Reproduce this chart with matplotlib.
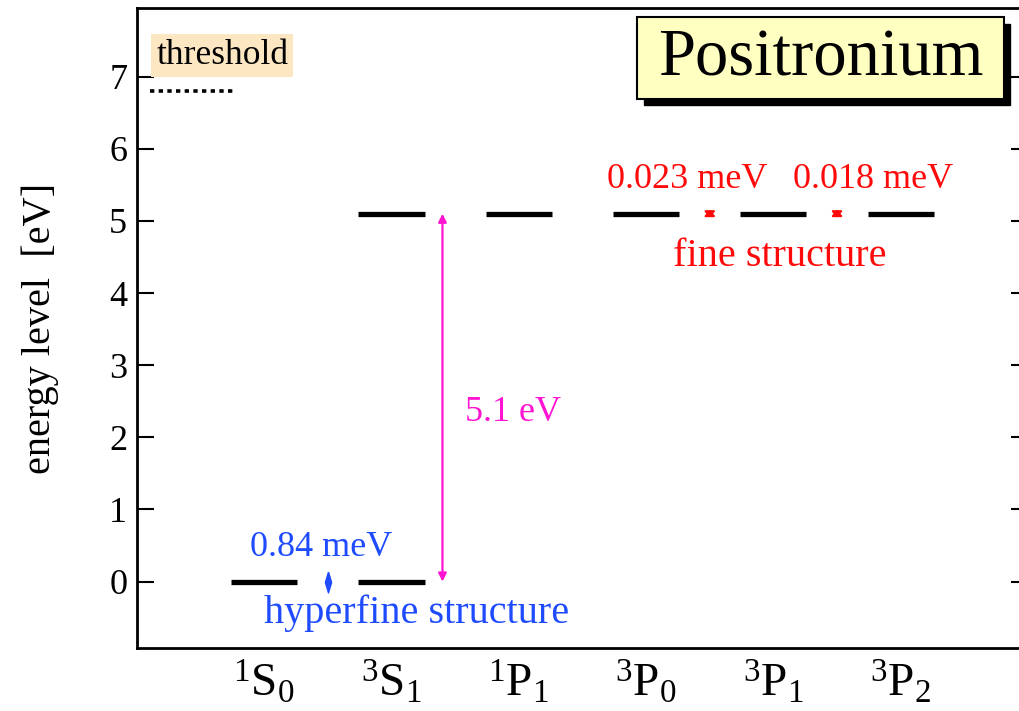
import matplotlib
matplotlib.use('Agg')
import matplotlib.pyplot as plt
from matplotlib.patches import Rectangle

plt.rcParams['font.family'] = ['Liberation Serif', 'DejaVu Serif']
plt.rcParams['mathtext.fontset'] = 'custom'
plt.rcParams['mathtext.rm'] = 'Liberation Serif'
plt.rcParams['mathtext.it'] = 'Liberation Serif:italic'

# term labels on the x axis
states = [r'$^{1}\mathrm{S}_{0}$', r'$^{3}\mathrm{S}_{1}$', r'$^{1}\mathrm{P}_{1}$',
          r'$^{3}\mathrm{P}_{0}$', r'$^{3}\mathrm{P}_{1}$', r'$^{3}\mathrm{P}_{2}$']
# drawn levels: column index and energy (eV)
level_x = [1, 2, 2, 3, 4, 5, 6]
level_e = [0.0, 0.0, 5.1, 5.1, 5.1, 5.1, 5.1]
threshold = 6.8
excitation = 5.1
hyperfine = '0.84 meV'
fine_splits = ['0.023 meV', '0.018 meV']
yticks = [0, 1, 2, 3, 4, 5, 6, 7]

BLUE = '#1f4bff'
RED = '#ff0a0a'
MAGENTA = '#ff14d2'

fig = plt.figure(figsize=(10.2, 7.11), dpi=100)
ax = fig.add_axes([0.1343, 0.0886, 0.8735, 0.9001])

half = 0.26
for x, e in zip(level_x, level_e):
    ax.plot([x - half, x + half], [e, e], color='black', lw=3.8, solid_capstyle='butt')

# ionization threshold
ax.plot([0.1, 0.77], [threshold, threshold], color='black', lw=2.6,
        linestyle=(0, (1.2, 1.2)))
ax.text(0.67, 7.29, 'threshold', fontsize=25.5, ha='center', va='center',
        bbox=dict(boxstyle='square,pad=0.14', fc='#fde7c3', ec='none'))

# 1S -> 2P excitation
ax.annotate('', xy=(2.40, 0.0), xytext=(2.40, excitation),
            arrowprops=dict(arrowstyle='<|-|>', color=MAGENTA, lw=1.6,
                            mutation_scale=12, shrinkA=0, shrinkB=0))
ax.text(2.58, 2.35, f'{excitation} eV', color=MAGENTA, fontsize=26,
        ha='left', va='center')

# hyperfine splitting of the ground state (tiny double arrow)
diamond = [(0, 1), (0.3, 0), (0, -1), (-0.3, 0), (0, 1)]
ax.plot([1.5], [0.0], marker=diamond, markersize=15, color=BLUE, lw=0)
ax.text(1.45, 0.47, hyperfine, color=BLUE, fontsize=26, ha='center', va='center')
ax.text(2.2, -0.44, 'hyperfine structure', color=BLUE, fontsize=29,
        ha='center', va='center')

# fine structure splittings of 2P
for xa, lab, xl in zip([4.5, 5.5], fine_splits, [4.32, 5.78]):
    ax.annotate('', xy=(xa, 5.1 - 0.055), xytext=(xa, 5.1 + 0.055),
                arrowprops=dict(arrowstyle='<|-|>,head_length=0.35,head_width=0.3',
                                color=RED, lw=1.5, mutation_scale=10,
                                shrinkA=0, shrinkB=0))
    ax.text(xl, 5.57, lab, color=RED, fontsize=26, ha='center', va='center')
ax.text(5.05, 4.5, 'fine structure', color=RED, fontsize=29, ha='center', va='center')

# title box with drop shadow
bx, by, bw, bh = 3.93, 6.69, 2.88, 1.13
ax.add_patch(Rectangle((bx + 0.05, by - 0.085), bw, bh, fc='black', ec='black',
                       lw=1.0, zorder=4))
ax.add_patch(Rectangle((bx, by), bw, bh, fc='#ffffc2', ec='black', lw=1.5, zorder=5))
ax.text(bx + bw / 2, 7.25, 'Positronium', fontsize=48, ha='center', va='center',
        zorder=6)

ax.set_xlim(0, 7)
ax.set_ylim(-0.92, 7.95)
ax.set_xticks(range(1, len(states) + 1))
ax.set_xticklabels(states, fontsize=34)
ax.set_yticks(yticks)
ax.tick_params(axis='y', direction='in', length=12, width=1.5, labelsize=26,
               right=True, pad=7)
ax.tick_params(axis='x', length=0, pad=8)
for s in ax.spines.values():
    s.set_linewidth(2)
ax.set_ylabel('energy level  [eV]', fontsize=29, labelpad=36)

fig.savefig('out.png', dpi=100)
